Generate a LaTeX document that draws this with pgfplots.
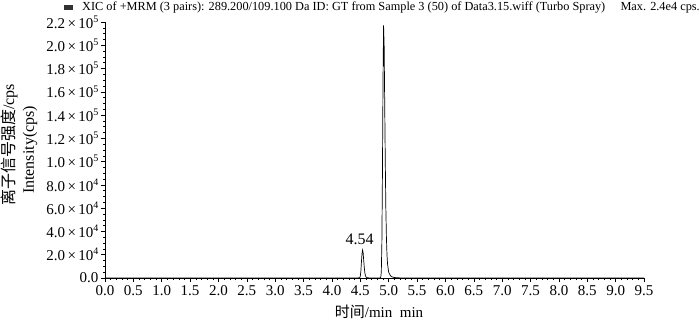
\documentclass[border=0pt]{standalone}
\usepackage{fontspec}
\setmainfont{Liberation Serif}
\newfontfamily\cjk{Noto Sans CJK SC}
\usepackage{pgfplots}
\pgfplotsset{compat=1.18}
\newcommand{\sci}[2]{#1\,×\,10\raisebox{0.85ex}{\fontsize{10bp}{10bp}\selectfont #2}}
\begin{document}
\begin{tikzpicture}
\path[use as bounding box] (0,0) rectangle (700bp,321bp);
\begin{axis}[
  at={(105bp,43bp)}, anchor=south west,
  scale only axis, width=539bp, height=256bp,
  xmin=0, xmax=9.5, ymin=0, ymax=220000,
  axis lines*=left,
  axis line style={line width=0.6bp},
  tick align=outside,
  major tick length=4bp, minor tick length=2bp,
  tick style={black, line width=0.5bp},
  xtick={0,0.5,...,9.5},
  minor x tick num=4,
  ytick={0,20000,40000,60000,80000,100000,120000,140000,160000,180000,200000,220000},
  yticklabels={0.0,\sci{2.0}{4},\sci{4.0}{4},\sci{6.0}{4},\sci{8.0}{4},\sci{1.0}{5},\sci{1.2}{5},\sci{1.4}{5},\sci{1.6}{5},\sci{1.8}{5},\sci{2.0}{5},\sci{2.2}{5}},
  minor y tick num=3,
  scaled y ticks=false,
  /pgf/number format/assume math mode=true,
  xticklabel style={/pgf/number format/.cd, fixed, fixed zerofill, precision=1},
  ticklabel style={font=\fontsize{15bp}{16bp}\selectfont},
  yticklabel style={xshift=1bp},
  clip=false,
]
\addplot[black, line width=0.7bp] coordinates {
(0,0) (4.45,0) (4.49,300) (4.50,1500) (4.51,6000) (4.52,14000) (4.53,21000) (4.54,24000) (4.55,21500) (4.56,15000) (4.57,9000) (4.58,4500) (4.59,2000) (4.60,900) (4.62,300) (4.65,100) (4.70,0)
(4.84,0) (4.86,500) (4.87,5000) (4.88,30000) (4.89,90000) (4.90,170000) (4.91,217000) (4.92,200000) (4.93,150000) (4.94,100000) (4.95,60000) (4.96,35000) (4.97,20000) (4.98,12000) (5.00,5000) (5.03,2000) (5.06,1000) (5.10,400) (5.20,100) (5.30,0) (9.5,0)
};
\node[anchor=south, font=\fontsize{16bp}{17bp}\selectfont, inner sep=1bp] at (axis cs:4.49,27500) {4.54};
\end{axis}
% axis labels
\node[rotate=90, font=\fontsize{16bp}{17bp}\selectfont, inner sep=0pt] at (9bp,176bp) {{\cjk 离子信号强度}/cps};
\node[rotate=90, font=\fontsize{16bp}{17bp}\selectfont, inner sep=0pt] at (30bp,171bp) {Intensity(cps)};
\node[font=\fontsize{15bp}{16bp}\selectfont, inner sep=0pt] at (379bp,9bp) {{\cjk 时间}/min\ \ min};
% title
\fill[black!80] (64bp,311bp) rectangle (73bp,316bp);
\node[anchor=west, font=\fontsize{12.3bp}{13bp}\selectfont, inner sep=0pt] at (82bp,313.5bp) {XIC of +MRM (3 pairs): 289.200/109.100 Da ID: GT from Sample 3 (50) of Data3.15.wiff (Turbo Spray)};
\node[anchor=east, font=\fontsize{12.3bp}{13bp}\selectfont, inner sep=0pt] at (700bp,313.5bp) {Max. 2.4e4 cps.};
\end{tikzpicture}
\end{document}
